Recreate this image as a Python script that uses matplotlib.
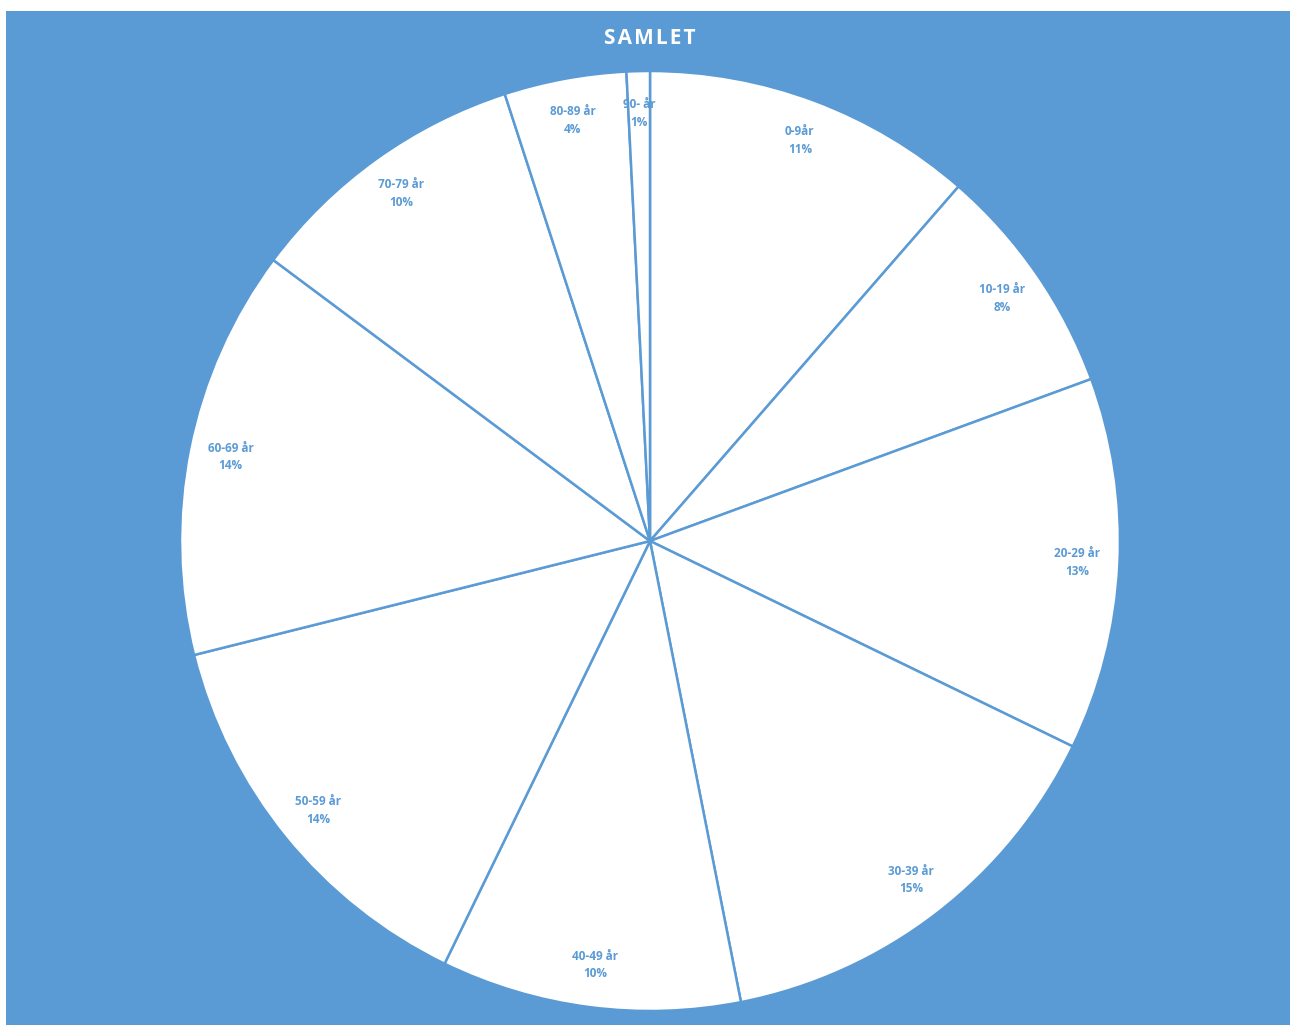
import matplotlib.pyplot as plt
from matplotlib.patches import Rectangle

plt.rcParams['font.family'] = ['Open Sans', 'DejaVu Sans']

labels = ["0-9år", "10-19 år", "20-29 år", "30-39 år", "40-49 år",
          "50-59 år", "60-69 år", "70-79 år", "80-89 år", "90- år"]
values = [11.4, 8.0, 12.8, 14.7, 10.3, 13.9, 14.1, 9.8, 4.2, 0.8]

blue = "#5B9BD5"

fig = plt.figure(figsize=(12.9, 10.25), dpi=100, facecolor="white")
fig.patches.append(Rectangle((6 / 1290, 0), 1, 1 - 11 / 1025, transform=fig.transFigure,
                             facecolor=blue, edgecolor="none", zorder=-10))

ax = fig.add_axes([(650 - 470) / 1290, 14 / 1025, 940 / 1290, 940 / 1025])
ax.set_facecolor("none")

total = sum(values)
texts_in = [f"{n}\n{v / total * 100:.0f}%" for n, v in zip(labels, values)]
wedges, texts = ax.pie(values, labels=texts_in, startangle=90, counterclock=False,
                       labeldistance=0.91, colors=["white"] * len(values),
                       wedgeprops=dict(edgecolor=blue, linewidth=1.8))
for t in texts:
    t.set_ha("center")
    t.set_va("center")
    t.set_color(blue)
    t.set_fontsize(8.5)
    t.set_fontweight("bold")
    t.set_linespacing(1.45)
ax.set_xlim(-1, 1)
ax.set_ylim(-1, 1)
ax.set_aspect("equal")
ax.axis("off")

fig.text(650 / 1290, 1 - 38 / 1025, "S\u200aA\u200aM\u200aL\u200aE\u200aT", color="white",
         fontsize=15, fontweight="bold", ha="center", va="center")

fig.savefig("out.png", dpi=100, facecolor="white")
